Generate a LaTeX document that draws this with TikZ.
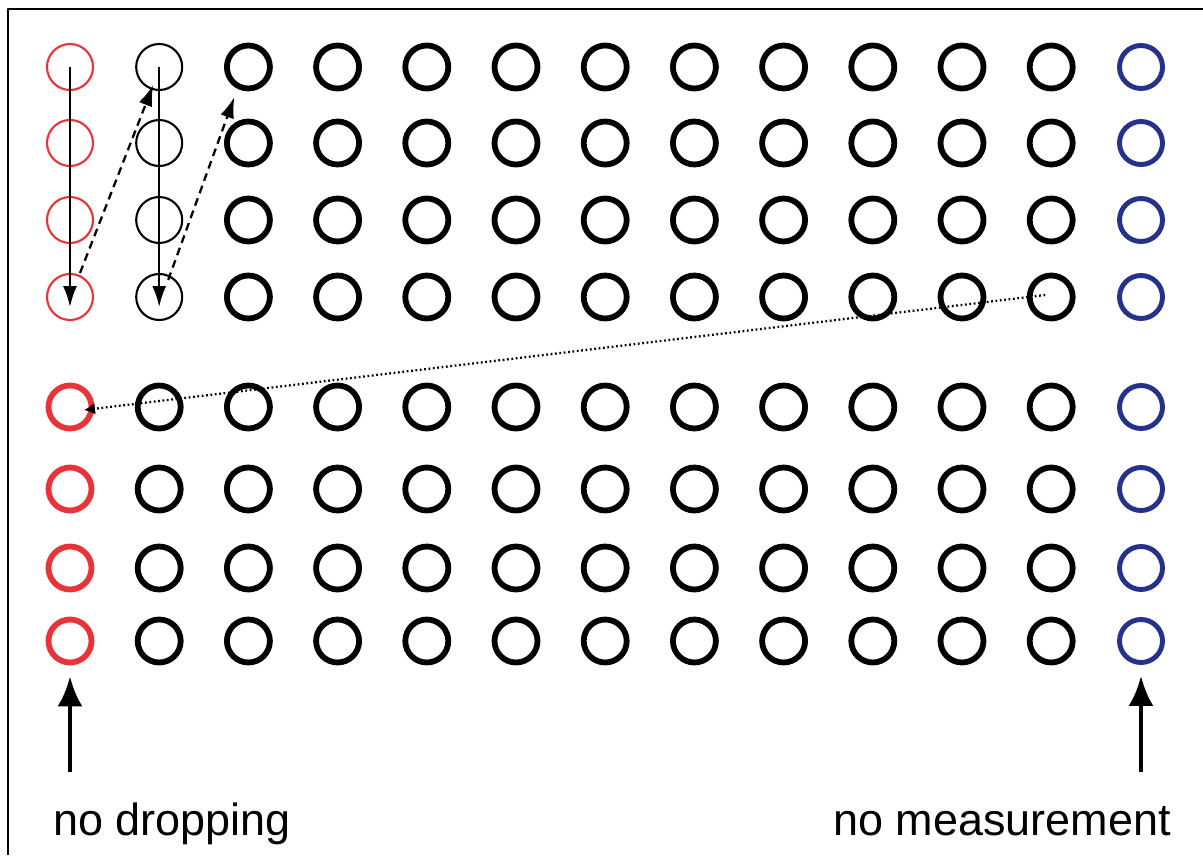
\documentclass[tikz,border=0pt]{standalone}
\usepackage{fontspec}
\setmainfont{Liberation Sans}
\usetikzlibrary{arrows.meta}
\definecolor{dropred}{RGB}{232,52,56}
\definecolor{measblue}{RGB}{36,50,140}
\tikzset{
	qubit/.style={circle, draw, inner sep=0pt, minimum size=0.86cm, line width=3.3pt},
	thinqubit/.style={qubit, minimum size=0.92cm, line width=1.2pt},
	pathline/.style={line width=1.3pt, -{Latex[length=0.42cm, width=0.28cm]}},
	markarrow/.style={line width=2.6pt, -{Latex[length=0.6cm, width=0.5cm]}},
}
\begin{document}
\begin{tikzpicture}[x=0.02cm, y=-0.02cm, font=\fontsize{25.6pt}{30pt}\selectfont, line join=round]
	\useasboundingbox (0,0) rectangle (1203,855);
	\fill[white] (0,0) rectangle (1203,855);
	\draw[line width=1.2pt] (8,855)--(8,9)--(1203,9);
	% upper block
	\foreach \r/\y in {1/67,2/143,3/220,4/297} {
		\node[thinqubit, draw=dropred] (c-\r-1) at (70,\y) {};
		\node[thinqubit] (c-\r-2) at (159.2,\y) {};
		\foreach \c in {3,...,12} \node[qubit] (c-\r-\c) at ({70+89.2*(\c-1)},\y) {};
		\node[qubit, draw=measblue, line width=2.8pt] (c-\r-13) at (1141,\y) {};
	}
	% lower block
	\foreach \r/\y in {5/407,6/489,7/568,8/641} {
		\node[qubit, draw=dropred] (c-\r-1) at (70,\y) {};
		\foreach \c in {2,...,12} \node[qubit] (c-\r-\c) at ({70+89.2*(\c-1)},\y) {};
		\node[qubit, draw=measblue, line width=2.8pt] (c-\r-13) at (1141,\y) {};
	}
	% scan order
	\draw[pathline] (c-1-1.center)--([shift={(0,10)}]c-4-1.center);
	\draw[pathline] (c-1-2.center)--([shift={(0,10)}]c-4-2.center);
	\draw[pathline, dash pattern=on 4.5pt off 3pt] ([shift={(10,-24)}]c-4-1.center)--([shift={(-6,18)}]c-1-2.center);
	\draw[pathline, dash pattern=on 4.5pt off 3pt] ([shift={(9,-17)}]c-4-2.center)--([shift={(-14,30)}]c-1-3.center);
	\draw[line width=1.3pt, dash pattern=on 1pt off 1.5pt, -{Latex[length=0.22cm, width=0.24cm]}] ([shift={(-6,-2)}]c-4-12.center)--([shift={(14,3)}]c-5-1.center);
	% labels
	\node[anchor=base west, inner sep=0pt] (drop-label) at (53,835) {no dropping};
	\node[anchor=base east, inner sep=0pt] (meas-label) at (1171,835) {no measurement};
	\coordinate (drop-foot) at (70,772);
	\coordinate (meas-foot) at (1141,772);
	\draw[markarrow] (drop-foot)--([shift={(0,11)}]c-8-1.south);
	\draw[markarrow] (meas-foot)--([shift={(0,11)}]c-8-13.south);
\end{tikzpicture}
\end{document}
